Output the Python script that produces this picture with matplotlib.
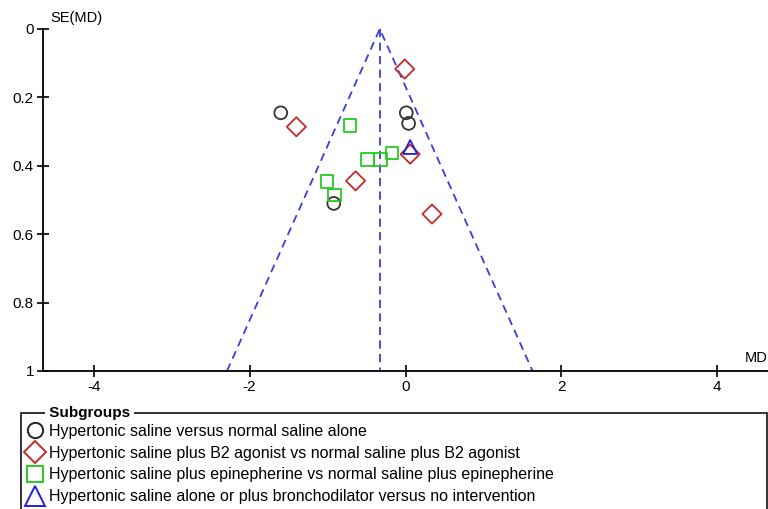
import matplotlib.pyplot as plt
from matplotlib.lines import Line2D
from matplotlib.patches import Rectangle

plt.rcParams['font.family'] = ['Liberation Sans', 'DejaVu Sans']
plt.rcParams['font.size'] = 10
plt.rcParams['axes.unicode_minus'] = False

# pooled mean difference (funnel centre)
pooled_md = -0.33

circle_md = [-1.60, 0.01, 0.04, -0.92]
circle_se = [0.245, 0.245, 0.276, 0.51]

diamond_md = [-0.01, -1.40, 0.06, -0.64, 0.34]
diamond_se = [0.117, 0.286, 0.366, 0.444, 0.541]

square_md = [-0.71, -0.49, -0.32, -0.17, -1.01, -0.91]
square_se = [0.282, 0.381, 0.381, 0.362, 0.446, 0.485]

triangle_md = [0.06]
triangle_se = [0.345]

labels = ["Hypertonic saline versus normal saline alone",
          "Hypertonic saline plus B2 agonist vs normal saline plus B2 agonist",
          "Hypertonic saline plus epinepherine vs normal saline plus epinepherine",
          "Hypertonic saline alone or plus bronchodilator versus no intervention"]

fig = plt.figure(figsize=(7.68, 5.09), dpi=100)
W, H = 768, 509
ax = fig.add_axes([43 / W, 1 - 371 / H, (768 - 43) / W, (371 - 29) / H])

blue = '#3c3cdc'
ax.plot([pooled_md, pooled_md], [0, 1], ls=(0, (4.5, 3)), color=blue, lw=1.3)
ax.plot([pooled_md - 1.96, pooled_md, pooled_md + 1.96], [1, 0, 1],
        ls=(0, (4.5, 3)), color=blue, lw=1.3)

ax.scatter(circle_md, circle_se, marker='o', s=85, facecolors='none',
           edgecolors='#333333', linewidths=1.3, zorder=3)
ax.scatter(diamond_md, diamond_se, marker='D', s=95, facecolors='none',
           edgecolors='#c42a2a', linewidths=1.3, zorder=3)
ax.scatter(square_md, square_se, marker='s', s=80, facecolors='none',
           edgecolors='#22cc22', linewidths=1.3, zorder=3)
ax.scatter(triangle_md, triangle_se, marker='^', s=100, facecolors='none',
           edgecolors='#2020dd', linewidths=1.3, zorder=3)

ax.set_xlim(-4.65, 4.65)
ax.set_ylim(1, 0)
ax.set_xticks([-4, -2, 0, 2, 4])
ax.set_yticks([0, 0.2, 0.4, 0.6, 0.8, 1])
ax.set_yticklabels(['0', '0.2', '0.4', '0.6', '0.8', '1'])
ax.tick_params(direction='inout', length=9, width=1.2, colors='black',
               labelsize=11, pad=2)
for s in ['top', 'right']:
    ax.spines[s].set_visible(False)
for s in ['left', 'bottom']:
    ax.spines[s].set_linewidth(1.3)
    ax.spines[s].set_color('black')

fig.text(50 / W, 1 - 18 / H, 'SE(MD)', ha='left', va='center', fontsize=10.5)
fig.text(756 / W, 1 - 358 / H, 'MD', ha='center', va='center', fontsize=10.5)

# legend box
fig.patches.append(Rectangle((21 / W, -0.05), (767 - 21) / W, 0.05 + 1 - 413 / H,
                             transform=fig.transFigure, fill=False,
                             edgecolor='#222222', lw=1.3))
fig.text(45 / W, 1 - 413 / H, ' Subgroups ', ha='left', va='center',
         fontsize=11, fontweight='bold',
         bbox=dict(facecolor='white', edgecolor='none', pad=0))

handles = [
    Line2D([], [], ls='none', marker='o', ms=11, mfc='none', mec='#222222', mew=1.4),
    Line2D([], [], ls='none', marker='D', ms=11, mfc='none', mec='#c42a2a', mew=1.4),
    Line2D([], [], ls='none', marker='s', ms=11, mfc='none', mec='#22cc22', mew=1.4),
    Line2D([], [], ls='none', marker='^', ms=15, mfc='none', mec='#2020dd', mew=1.4),
]
fig.legend(handles, labels, loc='upper left', bbox_to_anchor=(27 / W, 1 - 424 / H),
           frameon=False, fontsize=11.5, handlelength=1.0, handletextpad=0.4,
           labelspacing=0.42, borderaxespad=0, borderpad=0)

fig.savefig('out.png', dpi=100)
